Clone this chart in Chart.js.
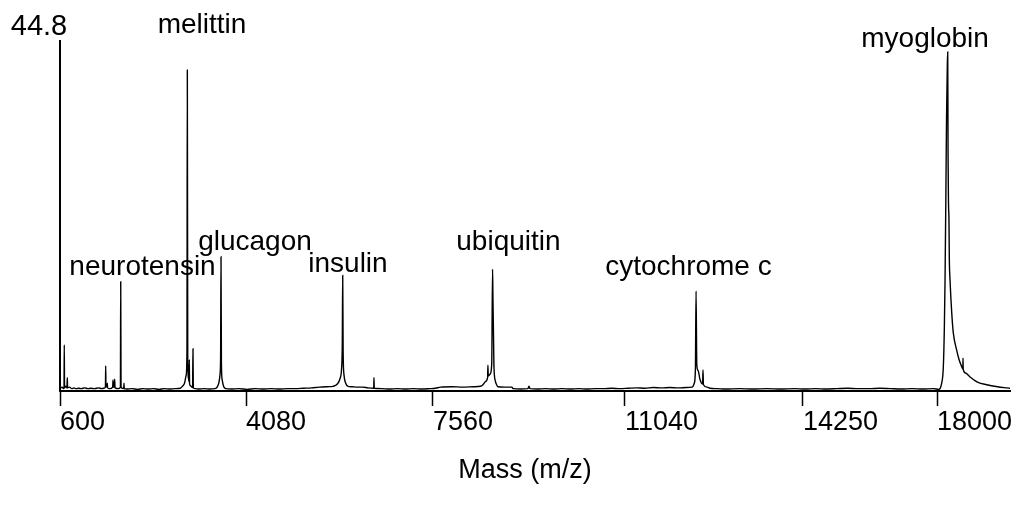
<!DOCTYPE html>
<html>
<head>
<meta charset="utf-8">
<script src="https://cdn.jsdelivr.net/npm/chart.js@4/dist/chart.umd.min.js"></script>
<style>
  html, body { margin: 0; padding: 0; background: #fff; }
  #wrap { width: 1020px; height: 508px; position: relative; }
</style>
</head>
<body>
<div id="wrap"><canvas id="c" width="1020" height="508"></canvas></div>
<script>
// ---- data ----
const xTickValues = [600, 4080, 7560, 11040, 14250, 18000];
const xTickLabels = ['600', '4080', '7560', '11040', '14250', '18000'];
const yMax = 44.8;
const yMaxLabel = '44.8';
const xAxisTitle = 'Mass (m/z)';

const peakNames = ['neurotensin', 'melittin', 'glucagon', 'insulin', 'ubiquitin', 'cytochrome c', 'myoglobin'];
const peakLabelMass = [2144, 3257, 4247, 5978, 8928, 12185, 17665];
const peakLabelValue = [14.85, 45.8, 18.05, 15.23, 18.05, 14.85, 44.03];

// spectrum: [mass, intensity]
const spectrum = [
  [600,0.3],[640,0.5],[665,0.3],[675,0.4],[680,5.9],[685,0.4],[700,0.6],[730,0.4],[737,1.7],[742,0.4],
  [780,0.5],[820,0.3],[860,0.4],[900,0.3],[950,0.35],[1000,0.3],[1060,0.4],[1120,0.3],[1180,0.35],[1250,0.3],
  [1320,0.4],[1380,0.3],[1440,0.4],[1450,0.6],[1455,3.2],[1460,0.6],[1480,0.5],[1485,1.0],[1490,0.4],[1530,0.3],
  [1585,0.5],[1592,1.4],[1598,0.5],[1616,0.5],[1623,1.5],[1630,0.4],[1700,0.3],[1730,0.5],[1736,14.0],[1742,0.5],
  [1792,0.3],[1797,1.0],[1802,0.3],[1850,0.25],[1950,0.3],[2050,0.2],[2150,0.3],[2250,0.25],[2350,0.3],[2450,0.2],
  [2550,0.3],[2650,0.25],[2750,0.3],[2850,0.35],[2890,0.6],[2930,1.0],[2960,2.0],[2975,5.0],[2982,41.1],[2990,4.0],
  [3005,1.6],[3014,1.2],[3019,4.0],[3024,0.9],[3050,0.6],[3080,0.45],[3088,5.4],[3094,0.4],[3130,0.3],[3200,0.25],
  [3300,0.3],[3400,0.25],[3500,0.3],[3540,0.5],[3570,1.0],[3595,2.2],[3605,4.5],[3612,17.2],[3620,3.5],[3635,1.4],
  [3660,0.6],[3700,0.3],[3800,0.25],[3950,0.3],[4100,0.2],[4250,0.3],[4400,0.25],[4550,0.3],[4700,0.25],[4850,0.3],
  [5000,0.3],[5150,0.35],[5300,0.4],[5450,0.5],[5600,0.55],[5700,0.6],[5780,0.9],[5830,1.6],[5860,3.0],[5872,6.0],
  [5880,14.8],[5888,5.0],[5905,2.0],[5935,1.0],[5980,0.6],[6050,0.55],[6150,0.5],[6250,0.5],[6350,0.4],[6450,0.35],
  [6457,0.4],[6462,1.7],[6467,0.35],[6600,0.3],[6750,0.25],[6900,0.3],[7050,0.25],[7200,0.3],[7350,0.25],[7500,0.3],
  [7600,0.35],[7700,0.5],[7900,0.55],[8100,0.5],[8300,0.55],[8420,0.6],[8466,0.8],[8510,1.2],[8550,1.7],[8556,3.3],
  [8562,1.9],[8600,2.2],[8625,3.5],[8640,15.6],[8647,12.0],[8658,6.8],[8665,3.2],[8690,1.3],[8714,0.8],[8738,0.55],
  [8850,0.5],[8990,0.5],[9010,0.3],[9150,0.25],[9280,0.3],[9300,0.6],[9320,0.3],[9450,0.25],[9600,0.3],[9750,0.25],
  [9900,0.3],[10050,0.25],[10200,0.3],[10350,0.25],[10500,0.3],[10650,0.3],[10800,0.35],[10950,0.3],[11100,0.35],[11250,0.4],
  [11400,0.35],[11550,0.45],[11700,0.4],[11850,0.45],[12000,0.4],[12150,0.45],[12250,0.5],[12290,1.0],[12310,2.8],[12322,12.8],
  [12335,3.4],[12360,2.6],[12392,1.5],[12440,0.9],[12447,2.7],[12455,0.8],[12520,0.5],[12572,0.35],[12700,0.3],[12850,0.25],
  [13100,0.3],[13350,0.25],[13600,0.3],[13850,0.25],[14100,0.3],[14300,0.25],[14600,0.3],[14900,0.25],[15200,0.3],[15500,0.35],
  [15800,0.3],[16100,0.3],[16400,0.35],[16700,0.3],[17000,0.25],[17300,0.3],[17600,0.25],[17900,0.3],[18050,0.2],[18084,0.3],
  [18130,1.0],[18177,3.1],[18205,8.0],[18225,14.2],[18250,26.0],[18267,35.0],[18290,42.0],[18300,43.4],[18310,30.0],[18322,24.0],
  [18335,22.0],[18345,17.0],[18365,14.2],[18413,10.0],[18458,7.4],[18553,5.2],[18620,4.0],[18694,3.1],[18725,2.8],[18730,4.2],
  [18735,2.8],[18800,2.3],[18927,1.8],[19150,1.1],[19396,0.8],[19700,0.55],[19957,0.4],[20050,0.35]
];

// ---- piecewise mass axis (axis as printed in the source figure) ----
class PiecewiseScale extends Chart.LinearScale {
  _frac(v) {
    const bp = this.options.breakpoints;
    if (v <= bp[0][0]) return bp[0][1];
    for (let i = 1; i < bp.length; i++) {
      if (v <= bp[i][0]) {
        const [v0, f0] = bp[i - 1], [v1, f1] = bp[i];
        return f0 + (v - v0) / (v1 - v0) * (f1 - f0);
      }
    }
    return bp[bp.length - 1][1];
  }
  getPixelForValue(v) {
    if (v === null || v === undefined) return NaN;
    return this.getPixelForDecimal(this._frac(v));
  }
  getValueForPixel(p) {
    const f = this.getDecimalForPixel(p);
    const bp = this.options.breakpoints;
    for (let i = 1; i < bp.length; i++) {
      if (f <= bp[i][1]) {
        const [v0, f0] = bp[i - 1], [v1, f1] = bp[i];
        return v0 + (f - f0) / (f1 - f0) * (v1 - v0);
      }
    }
    return bp[bp.length - 1][0];
  }
}
PiecewiseScale.id = 'piecewise';
PiecewiseScale.defaults = Chart.LinearScale.defaults;
Chart.register(PiecewiseScale);

Chart.defaults.font.family = '"Liberation Sans", Arial, sans-serif';
Chart.defaults.color = '#000';

const labelPlugin = {
  id: 'peakLabels',
  afterDraw(chart) {
    const { ctx, scales: { x, y }, chartArea } = chart;
    ctx.save();
    ctx.fillStyle = '#000';
    ctx.textBaseline = 'alphabetic';
    ctx.textAlign = 'center';
    ctx.font = '28px "Liberation Sans", Arial, sans-serif';
    peakNames.forEach((name, i) => {
      ctx.fillText(name, x.getPixelForValue(peakLabelMass[i]), y.getPixelForValue(peakLabelValue[i]));
    });
    // max-intensity label above the y axis
    ctx.font = '29px "Liberation Sans", Arial, sans-serif';
    ctx.fillText(yMaxLabel, chartArea.left - 21, y.getPixelForValue(yMax) - 6);
    // x axis title
    ctx.font = '27px "Liberation Sans", Arial, sans-serif';
    ctx.textBaseline = 'middle';
    ctx.fillText(xAxisTitle, (chartArea.left + chartArea.right) / 2 - 10, chartArea.bottom + 80);
    ctx.restore();
  }
};

new Chart(document.getElementById('c'), {
  type: 'line',
  data: {
    datasets: [{
      data: spectrum.map(p => ({ x: p[0], y: p[1] })),
      borderColor: '#000',
      borderWidth: 1.4,
      pointRadius: 0,
      fill: false,
      cubicInterpolationMode: 'monotone'
    }]
  },
  options: {
    responsive: false,
    animation: false,
    layout: { padding: { top: 41, left: 60, right: 10, bottom: 0 } },
    plugins: { legend: { display: false }, tooltip: { enabled: false } },
    scales: {
      x: {
        type: 'piecewise',
        min: 600,
        max: 20050,
        breakpoints: [[600, 0], [4080, 0.1958], [7560, 0.3926], [11040, 0.5947], [14250, 0.7821], [18000, 0.9232], [20050, 1]],
        afterBuildTicks: s => { s.ticks = xTickValues.map(v => ({ value: v })); },
        afterFit: s => { s.height = 117; },
        grid: { display: true, drawOnChartArea: false, drawTicks: true, tickLength: 15, color: '#000', tickWidth: 1.5 },
        border: { display: true, color: '#000', width: 2 },
        ticks: {
          autoSkip: false, maxRotation: 0, minRotation: 0, align: 'start', padding: 0,
          font: { size: 27 }, color: '#000',
          callback: (v) => { const i = xTickValues.indexOf(v); return i >= 0 ? xTickLabels[i] : ''; }
        },
        title: { display: false }
      },
      y: {
        min: 0,
        max: yMax,
        afterFit: s => { s.width = 0; },
        grid: { display: false },
        border: { display: true, color: '#000', width: 2 },
        ticks: { display: false }
      }
    }
  },
  plugins: [labelPlugin]
});
</script>
</body>
</html>
